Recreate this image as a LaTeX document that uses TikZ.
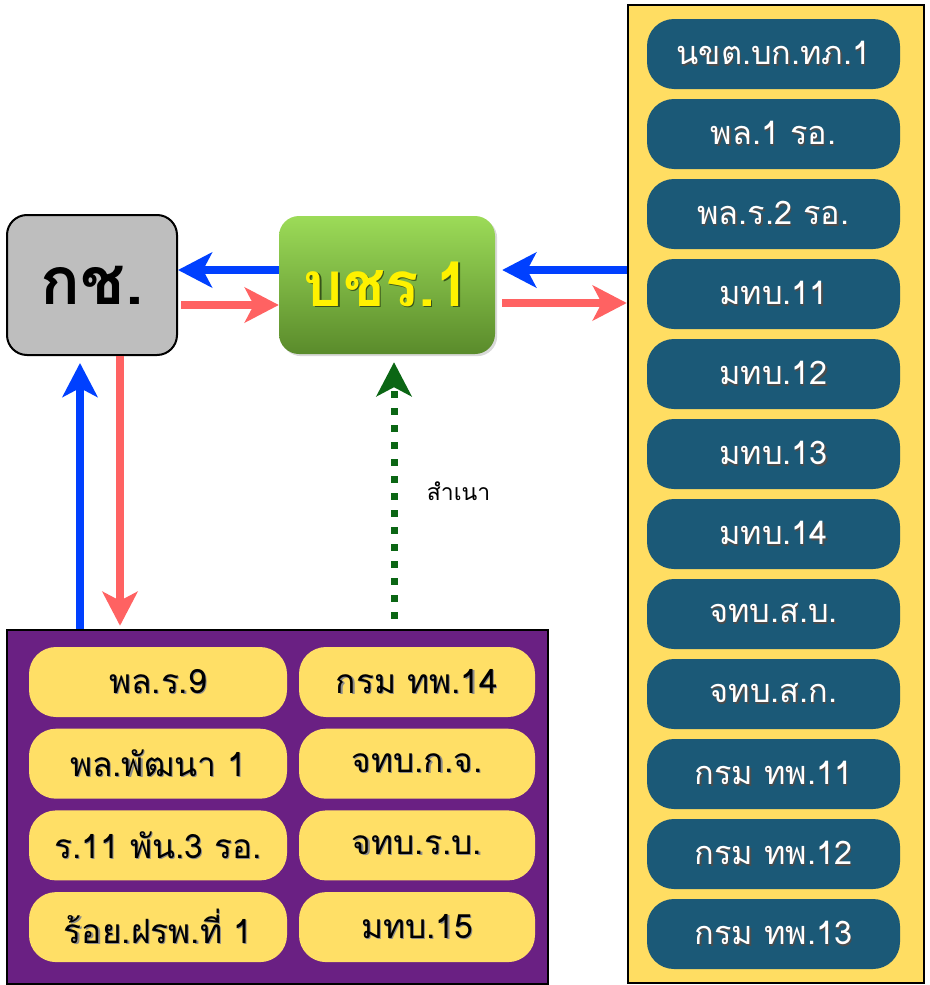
\documentclass[tikz,border=0pt]{standalone}
\usepackage{fontspec}
\newfontfamily\thaifont[Script=Thai]{Loma}
\usepackage{tikz}
\usetikzlibrary{positioning}
\usetikzlibrary{arrows.meta}
\usetikzlibrary{shadows}
\definecolor{boxgray}{HTML}{BEBEBE}
\definecolor{greentop}{HTML}{9CDB58}
\definecolor{greenbot}{HTML}{5A8B2B}
\definecolor{panelyellow}{HTML}{FFDD62}
\definecolor{pillyellow}{HTML}{FFDF66}
\definecolor{pillblue}{HTML}{1B5977}
\definecolor{panelpurple}{HTML}{6A2083}
\definecolor{arrblue}{HTML}{0040FF}
\definecolor{arrred}{HTML}{FF6262}
\definecolor{copygreen}{HTML}{0B6614}
% text with a small shadow under it
\newcommand{\shtxt}[2][black!45]{\rlap{\raisebox{-1.3pt}{\hspace{1.3pt}\textcolor{#1}{#2}}}#2}
\tikzset {
  % the two head boxes
  head/.style = {rounded corners=20pt, minimum width=170pt, minimum height=140pt,
    font=\thaifont\bfseries\fontsize{66}{66}\selectfont},
  % grey box on the left
  hq/.style = {head, draw=black, line width=2pt, fill=boxgray},
  % green box in the middle
  hub/.style = {head, minimum width=216pt, minimum height=138pt, top color=greentop,
    bottom color=greenbot, text=yellow, drop shadow={opacity=.3},
    font=\thaifont\bfseries\fontsize{62}{62}\selectfont},
  % the two big panels
  panel/.style = {draw=black, line width=2.5pt, inner sep=0pt},
  % unit pills
  pill/.style = {rounded corners=27pt, minimum height=70pt, inner sep=0pt},
  bluepill/.style = {pill, fill=pillblue, text=white, minimum width=253pt,
    font=\thaifont\fontsize{32.5}{32.5}\selectfont},
  yellowpill/.style = {pill, fill=pillyellow, text=black,
    font=\thaifont\fontsize{33.5}{33.5}\selectfont},
  % arrows
  arr/.style = {line width=8pt, -{Stealth[length=34pt, width=35pt, inset=9pt]}},
  bluearr/.style = {arr, arrblue},
  redarr/.style = {arr, arrred},
  copyarr/.style = {copygreen, line width=7pt, dash pattern=on 7pt off 10pt,
    -{Stealth[length=34pt, width=35pt, inset=9pt]}},
}
\begin{document}
\begin{tikzpicture}[x=1pt, y=-1pt]
  \useasboundingbox (0,0) rectangle (929,985);

  \node[panel, fill=panelyellow, minimum width=296pt, minimum height=978pt] (rp) at (776,494) {};
  \node[panel, fill=panelpurple, minimum width=541pt, minimum height=354pt] (grp) at (277.5,807) {};

  \node[hq] (ks) at (92,285) {กช.};
  \node[hub] (bcr) at (387,285) {\shtxt[greenbot!60!black]{บชร.1}};

  \foreach \t [count=\i from 0] in {นขต.บก.ทภ.1, พล.1 รอ., พล.ร.2 รอ., มทบ.11, มทบ.12,
      มทบ.13, มทบ.14, จทบ.ส.บ., จทบ.ส.ก., กรม ทพ.11, กรม ทพ.12, กรม ทพ.13}
    \node[bluepill] (r\i) at (773.5,{54+80*\i}) {\shtxt[black!70]{\t}};

  \foreach \a/\b [count=\i from 0] in {พล.ร.9/กรม ทพ.14, พล.พัฒนา 1/จทบ.ก.จ.,
      ร.11 พัน.3 รอ./จทบ.ร.บ., ร้อย.ฝรพ.ที่ 1/มทบ.15} {
    \node[yellowpill, minimum width=258pt] (la\i) at (158,{682+81.7*\i}) {\shtxt{\a}};
    \node[yellowpill, minimum width=236pt] (lb\i) at (417,{682+81.7*\i}) {\shtxt{\b}};
  }

  \draw[bluearr] ([yshift=15pt]bcr.west) -- ([yshift=15pt]ks.east);
  \draw[redarr, shorten <=3pt] ([yshift=-20pt]ks.east) -- ([yshift=-20pt]bcr.west);
  \draw[bluearr, shorten >=7pt] ([yshift=15pt]rp.west |- bcr.east) -- ([yshift=15pt]bcr.east);
  \draw[redarr, shorten <=7pt] ([yshift=-18pt]bcr.east) -- ([yshift=-18pt]rp.west |- bcr.east);
  \draw[bluearr, shorten >=7pt] ([xshift=-12pt]ks.south |- grp.north) -- ([xshift=-12pt]ks.south);
  \draw[redarr, shorten >=3pt] ([xshift=28pt]ks.south) -- ([xshift=28pt]ks.south |- grp.north);
  \draw[copyarr, shorten <=10pt, shorten >=8pt] ([xshift=7pt]bcr.south |- grp.north)
    -- node[midway, right=26pt, text=black, font=\thaifont\fontsize{23}{23}\selectfont] {สำเนา}
    ([xshift=7pt]bcr.south);
\end{tikzpicture}
\end{document}
